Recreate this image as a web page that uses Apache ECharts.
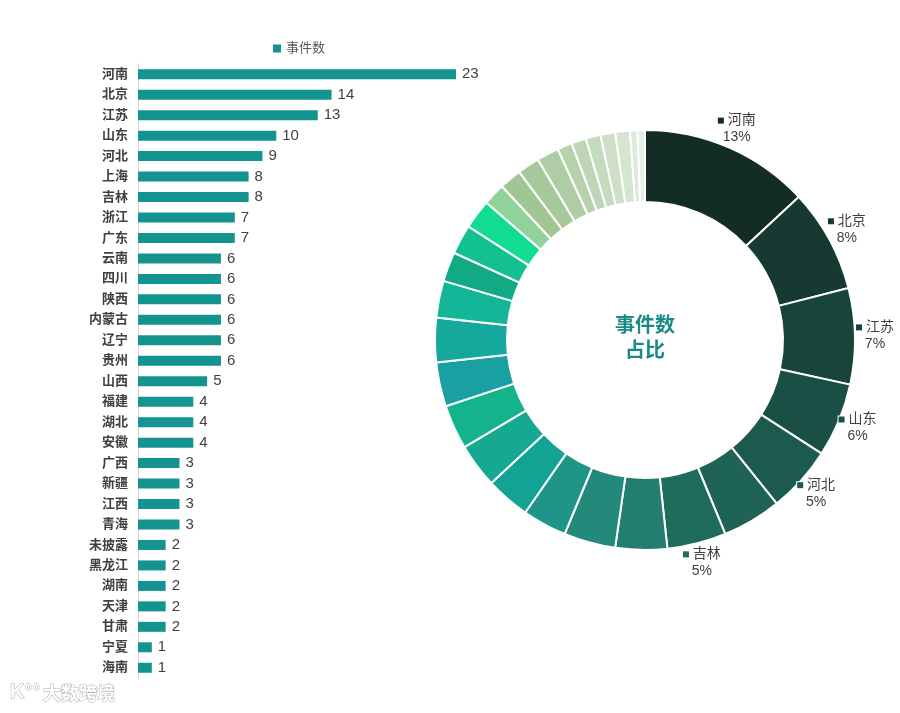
<!DOCTYPE html>
<html>
<head>
<meta charset="utf-8">
<script src="https://cdn.jsdelivr.net/npm/echarts@6/dist/echarts.min.js"></script>
<style>
html,body{margin:0;padding:0;background:#fff;}
#main{width:900px;height:713px;}
</style>
</head>
<body>
<div id="main"></div>
<script>
const categories = ['河南','北京','江苏','山东','河北','上海','吉林','浙江','广东','云南','四川','陕西','内蒙古','辽宁','贵州','山西','福建','湖北','安徽','广西','新疆','江西','青海','未披露','黑龙江','湖南','天津','甘肃','宁夏','海南'];
const values = [23,14,13,10,9,8,8,7,7,6,6,6,6,6,6,5,4,4,4,3,3,3,3,2,2,2,2,2,1,1];
const seriesName = '事件数';
const centerTitle = '事件数\n占比';
const labeledNames = ['河南','北京','江苏','山东','河北','吉林'];
const pieColors = ['#132c26','#163a31','#17443b','#1a4f45','#1c5a4f','#1e6356','#1f6b5c','#237e71','#22897b','#1f9588','#13a394','#16a890','#15b38b','#1a9fa2','#15a99e','#13b696','#12aa85','#12c18f','#12db93','#8fd39a','#a2c594','#a7c89b','#afcda5','#b6d2ad','#bdd6b5','#c5dbbe','#cde0c7','#d5e5d0','#dde9d9','#e6efe3'];

const PIE_CX = 645, PIE_CY = 340, PIE_R0 = 138, PIE_R = 210, LABEL_GAP = 20;

const total = values.reduce((a,b)=>a+b,0);
const midAngles = [];
(function(){
  let acc = 0;
  values.forEach(v => { midAngles.push((acc + v/2) / total * Math.PI * 2); acc += v; });
})();

const pieData = categories.map((name,i)=>{
  const show = labeledNames.indexOf(name) >= 0;
  return {
    name: name,
    value: values[i],
    itemStyle: {color: pieColors[i]},
    label: {
      show: show,
      formatter: (p)=> '{m|}{n| ' + p.name + '}\n{p|' + Math.round(p.percent) + '%}',
      rich: {
        m: {width: 6, height: 6, backgroundColor: pieColors[i], borderColor: '#fff', borderWidth: 1},
        n: {fontSize: 14, color: '#404040', lineHeight: 17},
        p: {fontSize: 14, color: '#404040', lineHeight: 17, align: 'center'}
      }
    }
  };
});

const chart = echarts.init(document.getElementById('main'));
chart.setOption({
  backgroundColor: '#fff',
  textStyle: {fontFamily: "'Liberation Sans','Noto Sans CJK SC',sans-serif"},
  legend: {
    data: [seriesName],
    top: 37,
    left: 268,
    icon: 'rect',
    itemWidth: 8,
    itemHeight: 8,
    itemGap: 6,
    textStyle: {fontSize: 13, color: '#595959'}
  },
  grid: {left: 138, right: 444, top: 64, bottom: 35, containLabel: false},
  xAxis: {
    type: 'value',
    min: 0,
    max: 'dataMax',
    show: false
  },
  yAxis: {
    type: 'category',
    data: categories,
    inverse: true,
    axisTick: {show: false},
    axisLine: {show: true, lineStyle: {color: '#d9d9d9', width: 1}},
    axisLabel: {margin: 10, fontSize: 13, fontWeight: 'bold', color: '#404040', interval: 0}
  },
  graphic: [
    {
      type: 'text', x: PIE_CX, y: 337,
      style: {text: centerTitle, textAlign: 'center', textVerticalAlign: 'middle', fontSize: 20, fontWeight: 'bold', fill: '#1a8a87', lineHeight: 25, fontFamily: "'Noto Sans CJK SC',sans-serif"}
    },
    {
      type: 'text', x: 10, y: 682,
      style: {text: 'K°°', fontSize: 20, fontWeight: 'bold', fill: '#ffffff', stroke: '#b0b0b0', lineWidth: 1, fontFamily: "'Liberation Sans',sans-serif"}
    },
    {
      type: 'text', x: 43, y: 684,
      style: {text: '大数跨境', fontSize: 18, fontWeight: 'bold', fill: '#ffffff', stroke: '#b0b0b0', lineWidth: 1, fontFamily: "'Noto Sans CJK SC',sans-serif"}
    }
  ],
  series: [
    {
      name: seriesName,
      type: 'bar',
      data: values,
      barWidth: 10,
      itemStyle: {color: '#13948f'},
      label: {show: true, position: 'right', distance: 6, fontSize: 15, color: '#404040'}
    },
    {
      name: '占比',
      type: 'pie',
      center: [PIE_CX, PIE_CY],
      radius: [PIE_R0, PIE_R],
      startAngle: 90,
      clockwise: true,
      avoidLabelOverlap: false,
      itemStyle: {borderColor: '#ffffff', borderWidth: 2},
      label: {position: 'outside'},
      labelLine: {show: false, length: 6, length2: 0},
      labelLayout: function (params) {
        const a = midAngles[params.dataIndex];
        const rr = PIE_R + LABEL_GAP;
        return {
          x: PIE_CX + rr * Math.sin(a),
          y: PIE_CY - rr * Math.cos(a),
          align: 'center',
          verticalAlign: 'middle'
        };
      },
      emphasis: {disabled: true},
      data: pieData
    }
  ]
});
</script>
</body>
</html>
